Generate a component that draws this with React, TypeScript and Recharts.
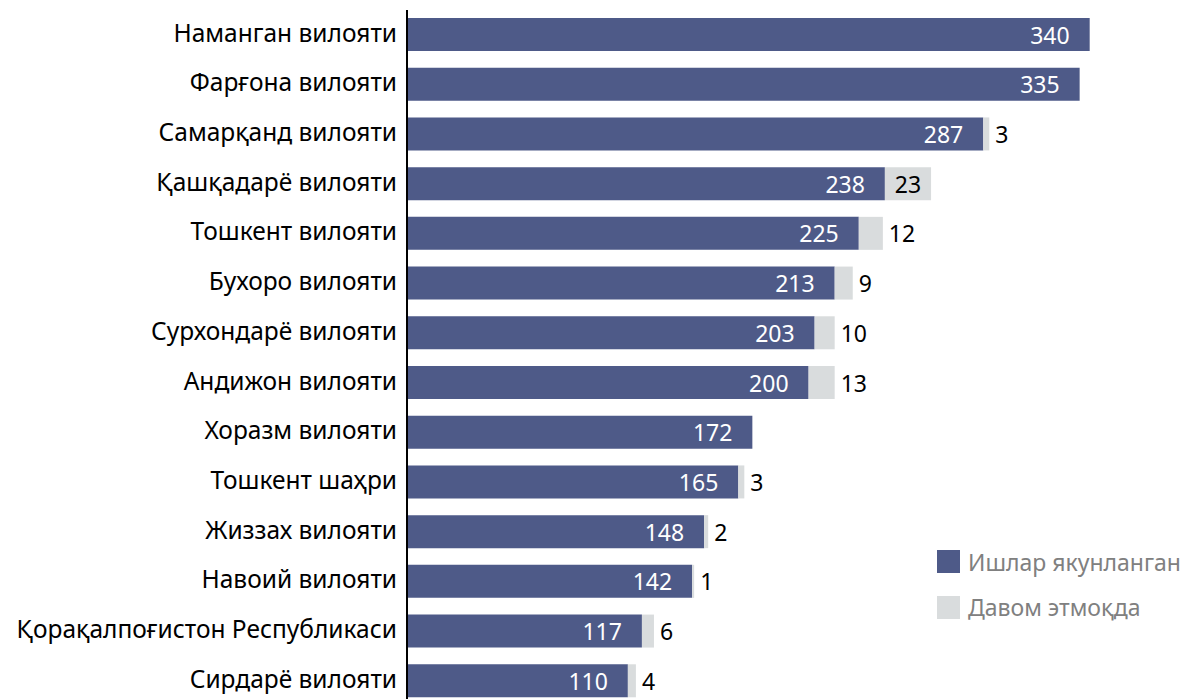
import { BarChart, Bar, XAxis, YAxis, LabelList } from "recharts";

const regions = [
  "Наманган вилояти",
  "Фарғона вилояти",
  "Самарқанд вилояти",
  "Қашқадарё вилояти",
  "Тошкент вилояти",
  "Бухоро вилояти",
  "Сурхондарё вилояти",
  "Андижон вилояти",
  "Хоразм вилояти",
  "Тошкент шаҳри",
  "Жиззах вилояти",
  "Навоий вилояти",
  "Қорақалпоғистон Республикаси",
  "Сирдарё вилояти",
];

const finished = [340, 335, 287, 238, 225, 213, 203, 200, 172, 165, 148, 142, 117, 110];
const ongoing = [0, 0, 3, 23, 12, 9, 10, 13, 0, 3, 2, 1, 6, 4];

const seriesNames = ["Ишлар якунланган", "Давом этмоқда"];

const BLUE = "#4e5a88";
const GREY = "#d9dcdd";
const FONT = "'Noto Sans', 'Open Sans', sans-serif";

const data = regions.map((name, i) => ({
  name,
  finished: finished[i],
  ongoing: ongoing[i],
}));

// white value at the inner end of the blue bar
const FinishedLabel = (props: any) => {
  const { x, y, width, height, value } = props;
  return (
    <text
      x={x + width - 20}
      y={y + height / 2}
      fill="#ffffff"
      fontSize={23}
      fontFamily={FONT}
      textAnchor="end"
      dominantBaseline="central"
    >
      {value}
    </text>
  );
};

// grey value: inside when it fits, otherwise right after the bar
const OngoingLabel = (props: any) => {
  const { x, y, width, height, value } = props;
  if (!value) return null;
  const inside = width > 40;
  return (
    <text
      x={inside ? x + width / 2 : x + width + 6}
      y={y + height / 2}
      fill="#000000"
      fontSize={23}
      fontFamily={FONT}
      textAnchor={inside ? "middle" : "start"}
      dominantBaseline="central"
    >
      {value}
    </text>
  );
};

const Legend = () => (
  <div
    style={{
      position: "absolute",
      left: 937,
      top: 539,
      fontFamily: FONT,
      fontSize: 23,
      color: "#808080",
      whiteSpace: "nowrap",
    }}
  >
    {seriesNames.map((n, i) => (
      <div
        key={n}
        style={{ display: "flex", alignItems: "center", height: 45.5 }}
      >
        <span
          style={{
            width: 23,
            height: 23,
            background: i === 0 ? BLUE : GREY,
            display: "inline-block",
            marginRight: 8,
            flexShrink: 0,
          }}
        />
        <span>{n}</span>
      </div>
    ))}
  </div>
);

export default function App() {
  return (
    <div
      style={{
        position: "fixed",
        left: 0,
        top: 0,
        width: 1184,
        height: 699,
        overflow: "hidden",
        background: "#ffffff",
      }}
    >
      <BarChart
        width={1184}
        height={708}
        data={data}
        layout="vertical"
        barSize={33}
        margin={{ top: 10, right: 14, bottom: 2, left: 0 }}
      >
        <XAxis type="number" domain={[0, 380]} hide />
        <YAxis
          type="category"
          dataKey="name"
          width={407}
          tickLine={false}
          tickSize={0}
          tickMargin={10}
          axisLine={{ stroke: "#000000", strokeWidth: 2 }}
          tick={{ fill: "#000000", fontSize: 24.5, fontFamily: FONT, dy: -2 }}
          interval={0}
        />
        <Bar dataKey="finished" stackId="a" fill={BLUE} isAnimationActive={false}>
          <LabelList dataKey="finished" content={FinishedLabel} />
        </Bar>
        <Bar dataKey="ongoing" stackId="a" fill={GREY} isAnimationActive={false}>
          <LabelList dataKey="ongoing" content={OngoingLabel} />
        </Bar>
      </BarChart>
      <Legend />
    </div>
  );
}
